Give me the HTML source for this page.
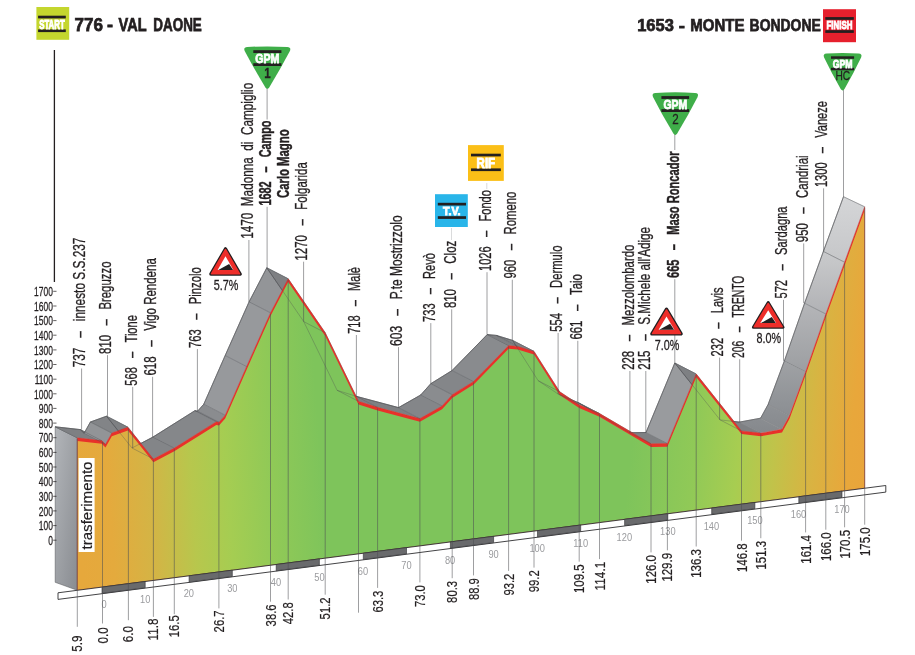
<!DOCTYPE html>
<html><head><meta charset="utf-8"><title>Profile</title>
<style>html,body{margin:0;padding:0;background:#fff}svg{display:block}</style></head>
<body>
<svg width="915" height="655" viewBox="0 0 915 655" font-family="'Liberation Sans', sans-serif">
<defs>
<linearGradient id="gf" gradientUnits="userSpaceOnUse" x1="77" y1="485" x2="865" y2="430">
<stop offset="0" stop-color="#e6a83c"/>
<stop offset="0.04" stop-color="#e4aa3d"/>
<stop offset="0.09" stop-color="#d4b445"/>
<stop offset="0.145" stop-color="#b7c74d"/>
<stop offset="0.19" stop-color="#a5cd52"/>
<stop offset="0.25" stop-color="#8fc957"/>
<stop offset="0.31" stop-color="#7ec45b"/>
<stop offset="0.70" stop-color="#7ec45b"/>
<stop offset="0.78" stop-color="#90c957"/>
<stop offset="0.835" stop-color="#a7cd51"/>
<stop offset="0.88" stop-color="#c0c34a"/>
<stop offset="0.93" stop-color="#d9b342"/>
<stop offset="0.975" stop-color="#e8a73b"/>
<stop offset="1" stop-color="#e9a53b"/>
</linearGradient>
<linearGradient id="gf2" gradientUnits="userSpaceOnUse" x1="77" y1="417.5" x2="865" y2="497.5">
<stop offset="0" stop-color="#e6a83c"/>
<stop offset="0.04" stop-color="#e4aa3d"/>
<stop offset="0.09" stop-color="#d4b445"/>
<stop offset="0.145" stop-color="#b7c74d"/>
<stop offset="0.19" stop-color="#a5cd52"/>
<stop offset="0.25" stop-color="#8fc957"/>
<stop offset="0.31" stop-color="#7ec45b"/>
<stop offset="0.70" stop-color="#7ec45b"/>
<stop offset="0.78" stop-color="#90c957"/>
<stop offset="0.835" stop-color="#a7cd51"/>
<stop offset="0.88" stop-color="#c0c34a"/>
<stop offset="0.93" stop-color="#d9b342"/>
<stop offset="0.975" stop-color="#e8a73b"/>
<stop offset="1" stop-color="#e9a53b"/>
</linearGradient>
<clipPath id="cl"><rect x="0" y="0" width="470" height="655"/></clipPath><clipPath id="cr"><rect x="470" y="0" width="445" height="655"/></clipPath>
<linearGradient id="gl" x1="0" y1="0" x2="1" y2="1">
<stop offset="0" stop-color="#b2b5b9"/><stop offset="1" stop-color="#898c91"/>
</linearGradient>
<linearGradient id="gr" gradientUnits="userSpaceOnUse" x1="0" y1="200" x2="0" y2="440">
<stop offset="0" stop-color="#d4d5d7"/><stop offset="0.25" stop-color="#c6c7c9"/><stop offset="0.46" stop-color="#b2b3b6"/><stop offset="0.67" stop-color="#a0a2a5"/><stop offset="0.84" stop-color="#909397"/><stop offset="1" stop-color="#83868a"/>
</linearGradient>
</defs>
<rect width="915" height="655" fill="#fff"/>
<line x1="54.4" y1="50" x2="54.4" y2="282" stroke="#231f20" stroke-width="1.3"/>
<polygon points="55.2,426.8 77.3,437.8 77.3,590.3 55.2,582.3" fill="url(#gl)" stroke="#4d4e52" stroke-width="0.5"/>
<polygon points="77.3,437.8 101.7,440.6 80.3,429.6 55.2,426.8" fill="#7e8083" stroke="#7e8083" stroke-width="0.6"/>
<polygon points="101.7,440.6 105.5,444.3 84.1,433.3 80.3,429.6" fill="#7e8083" stroke="#7e8083" stroke-width="0.6"/>
<polygon points="105.5,444.3 111.8,433.0 90.4,422.0 84.1,433.3" fill="#929497" stroke="#929497" stroke-width="0.6"/>
<polygon points="111.8,433.0 127.9,427.2 106.5,416.2 90.4,422.0" fill="#828487" stroke="#828487" stroke-width="0.6"/>
<polygon points="127.9,427.2 153.4,459.0 132.0,448.0 106.5,416.2" fill="#7e8083" stroke="#7e8083" stroke-width="0.6"/>
<polygon points="153.4,459.0 174.3,448.1 152.9,437.1 132.0,448.0" fill="#838588" stroke="#838588" stroke-width="0.6"/>
<polygon points="174.3,448.1 216.3,421.7 194.9,410.7 152.9,437.1" fill="#85878a" stroke="#85878a" stroke-width="0.6"/>
<polygon points="216.3,421.7 219.0,422.2 197.6,411.2 194.9,410.7" fill="#7e8083" stroke="#7e8083" stroke-width="0.6"/>
<polygon points="219.0,422.2 225.2,415.2 203.8,404.2 197.6,411.2" fill="#8a8c8f" stroke="#8a8c8f" stroke-width="0.6"/>
<polygon points="225.2,415.2 246.6,366.5 225.2,355.5 203.8,404.2" fill="#97999c" stroke="#97999c" stroke-width="0.6"/>
<polygon points="246.6,366.5 270.5,312.8 249.1,301.8 225.2,355.5" fill="#97999c" stroke="#97999c" stroke-width="0.6"/>
<polygon points="270.5,312.8 288.2,278.8 266.8,267.8 249.1,301.8" fill="#939598" stroke="#939598" stroke-width="0.6"/>
<polygon points="288.2,278.8 325.2,332.7 303.8,321.7 266.8,267.8" fill="#7e8083" stroke="#7e8083" stroke-width="0.6"/>
<polygon points="325.2,332.7 358.5,401.3 337.1,390.3 303.8,321.7" fill="#7e8083" stroke="#7e8083" stroke-width="0.6"/>
<polygon points="358.5,401.3 377.6,407.3 356.2,396.3 337.1,390.3" fill="#7e8083" stroke="#7e8083" stroke-width="0.6"/>
<polygon points="377.6,407.3 419.9,418.6 398.5,407.6 356.2,396.3" fill="#7e8083" stroke="#7e8083" stroke-width="0.6"/>
<polygon points="419.9,418.6 442.1,406.0 420.7,395.0 398.5,407.6" fill="#848689" stroke="#848689" stroke-width="0.6"/>
<polygon points="442.1,406.0 452.2,394.7 430.8,383.7 420.7,395.0" fill="#8a8c8f" stroke="#8a8c8f" stroke-width="0.6"/>
<polygon points="452.2,394.7 473.5,381.5 452.1,370.5 430.8,383.7" fill="#848689" stroke="#848689" stroke-width="0.6"/>
<polygon points="473.5,381.5 508.6,345.6 487.2,334.6 452.1,370.5" fill="#898b8e" stroke="#898b8e" stroke-width="0.6"/>
<polygon points="508.6,345.6 517.7,346.4 496.3,335.4 487.2,334.6" fill="#7e8083" stroke="#7e8083" stroke-width="0.6"/>
<polygon points="517.7,346.4 534.0,351.4 512.6,340.4 496.3,335.4" fill="#7e8083" stroke="#7e8083" stroke-width="0.6"/>
<polygon points="534.0,351.4 559.6,391.7 538.2,380.7 512.6,340.4" fill="#7e8083" stroke="#7e8083" stroke-width="0.6"/>
<polygon points="559.6,391.7 579.2,404.8 557.8,393.8 538.2,380.7" fill="#7e8083" stroke="#7e8083" stroke-width="0.6"/>
<polygon points="579.2,404.8 599.5,413.6 578.1,402.6 557.8,393.8" fill="#7e8083" stroke="#7e8083" stroke-width="0.6"/>
<polygon points="599.5,413.6 651.0,443.7 629.6,432.7 578.1,402.6" fill="#7e8083" stroke="#7e8083" stroke-width="0.6"/>
<polygon points="651.0,443.7 667.4,443.5 646.0,432.5 629.6,432.7" fill="#7e8083" stroke="#7e8083" stroke-width="0.6"/>
<polygon points="667.4,443.5 696.2,374.0 674.8,363.0 646.0,432.5" fill="#999b9e" stroke="#999b9e" stroke-width="0.6"/>
<polygon points="696.2,374.0 741.5,430.9 720.1,419.9 674.8,363.0" fill="#7e8083" stroke="#7e8083" stroke-width="0.6"/>
<polygon points="741.5,430.9 760.8,433.1 739.4,422.1 720.1,419.9" fill="#7e8083" stroke="#7e8083" stroke-width="0.6"/>
<polygon points="760.8,433.1 782.0,429.2 760.6,418.2 739.4,422.1" fill="url(#gr)" stroke="#b0b1b4" stroke-width="0.6"/>
<polygon points="782.0,429.2 789.5,415.5 768.1,404.5 760.6,418.2" fill="url(#gr)" stroke="#b0b1b4" stroke-width="0.6"/>
<polygon points="789.5,415.5 805.6,371.7 784.4,360.9 768.1,404.5" fill="url(#gr)" stroke="#b0b1b4" stroke-width="0.6"/>
<polygon points="805.6,371.7 825.8,314.0 804.6,303.2 784.4,360.9" fill="url(#gr)" stroke="#b0b1b4" stroke-width="0.6"/>
<polygon points="825.8,314.0 844.6,262.2 823.4,251.4 804.6,303.2" fill="url(#gr)" stroke="#b0b1b4" stroke-width="0.6"/>
<polygon points="844.6,262.2 864.7,206.8 843.5,196.7 823.4,251.4" fill="url(#gr)" stroke="#b0b1b4" stroke-width="0.6"/>
<polyline points="55.2,426.8 80.3,429.6 84.1,433.3 90.4,422.0 106.5,416.2 132.0,448.0 152.9,437.1 194.9,410.7 197.6,411.2 203.8,404.2 225.2,355.5 249.1,301.8 266.8,267.8 303.8,321.7 337.1,390.3 356.2,396.3 398.5,407.6 420.7,395.0 430.8,383.7 452.1,370.5 487.2,334.6 496.3,335.4 512.6,340.4 538.2,380.7 557.8,393.8 578.1,402.6 629.6,432.7 646.0,432.5 674.8,363.0 720.1,419.9 739.4,422.1 760.6,418.2 768.1,404.5 784.4,360.9 804.6,303.2 823.4,251.4 843.5,196.7" fill="none" stroke="#4d4e52" stroke-width="0.5"/>
<polygon points="77.3,437.8 101.7,440.6 105.5,444.3 111.8,433.0 127.9,427.2 153.4,459.0 174.3,448.1 216.3,421.7 219.0,422.2 225.2,415.2 246.6,366.5 270.5,312.8 288.2,278.8 325.2,332.7 358.5,401.3 377.6,407.3 419.9,418.6 442.1,406.0 452.2,394.7 473.5,381.5 508.6,345.6 517.7,346.4 534.0,351.4 559.6,391.7 579.2,404.8 599.5,413.6 651.0,443.7 667.4,443.5 696.2,374.0 741.5,430.9 760.8,433.1 782.0,429.2 789.5,415.5 805.6,371.7 825.8,314.0 844.6,262.2 864.7,206.8 864.7,488.2 77.3,590.3" fill="#e8312a"/>
<polygon points="77.3,441.0 101.7,443.8 105.5,447.5 111.8,436.2 127.9,430.4 153.4,462.2 174.3,451.3 216.3,424.9 219.0,425.4 225.2,418.4 246.6,369.7 270.5,316.0 288.2,282.0 325.2,335.9 358.5,404.5 377.6,410.5 419.9,421.8 442.1,409.2 452.2,397.9 473.5,384.7 508.6,348.8 517.7,349.6 534.0,354.6 559.6,394.9 579.2,408.0 599.5,416.8 651.0,446.9 667.4,446.7 696.2,377.2 741.5,434.1 760.8,436.3 782.0,432.4 789.5,418.7 805.6,374.9 825.8,317.2 844.6,265.4 864.7,210.0 864.7,488.2 77.3,590.3" fill="url(#gf)" clip-path="url(#cl)"/>
<polygon points="77.3,441.0 101.7,443.8 105.5,447.5 111.8,436.2 127.9,430.4 153.4,462.2 174.3,451.3 216.3,424.9 219.0,425.4 225.2,418.4 246.6,369.7 270.5,316.0 288.2,282.0 325.2,335.9 358.5,404.5 377.6,410.5 419.9,421.8 442.1,409.2 452.2,397.9 473.5,384.7 508.6,348.8 517.7,349.6 534.0,354.6 559.6,394.9 579.2,408.0 599.5,416.8 651.0,446.9 667.4,446.7 696.2,377.2 741.5,434.1 760.8,436.3 782.0,432.4 789.5,418.7 805.6,374.9 825.8,317.2 844.6,265.4 864.7,210.0 864.7,488.2 77.3,590.3" fill="url(#gf2)" clip-path="url(#cr)"/>
<polygon points="77.3,437.8 101.7,440.6 105.5,444.3 111.8,433.0 127.9,427.2 153.4,459.0 174.3,448.1 216.3,421.7 219.0,422.2 225.2,415.2 246.6,366.5 270.5,312.8 288.2,278.8 325.2,332.7 358.5,401.3 377.6,407.3 419.9,418.6 442.1,406.0 452.2,394.7 473.5,381.5 508.6,345.6 517.7,346.4 534.0,351.4 559.6,391.7 579.2,404.8 599.5,413.6 651.0,443.7 667.4,443.5 696.2,374.0 741.5,430.9 760.8,433.1 782.0,429.2 789.5,415.5 805.6,371.7 825.8,314.0 844.6,262.2 864.7,206.8 864.7,488.2 77.3,590.3" fill="none" stroke="#c8302a" stroke-width="0.4"/>
<polyline points="55.2,426.8 80.3,429.6 84.1,433.3 90.4,422.0 106.5,416.2 132.0,448.0 152.9,437.1 194.9,410.7 197.6,411.2 203.8,404.2 225.2,355.5 249.1,301.8 266.8,267.8 303.8,321.7 337.1,390.3 356.2,396.3 398.5,407.6 420.7,395.0 430.8,383.7 452.1,370.5 487.2,334.6 496.3,335.4 512.6,340.4 538.2,380.7 557.8,393.8 578.1,402.6 629.6,432.7 646.0,432.5 674.8,363.0 720.1,419.9 739.4,422.1 760.6,418.2 768.1,404.5 784.4,360.9 804.6,303.2 823.4,251.4 843.5,196.7" fill="none" stroke="#4d4e52" stroke-width="0.45" opacity="0.75"/>
<line x1="77.3" y1="437.8" x2="55.2" y2="426.8" stroke="#4d4e52" stroke-width="0.45" opacity="0.8"/>
<line x1="101.7" y1="440.6" x2="80.3" y2="429.6" stroke="#4d4e52" stroke-width="0.45" opacity="0.8"/>
<line x1="105.5" y1="444.3" x2="84.1" y2="433.3" stroke="#4d4e52" stroke-width="0.45" opacity="0.8"/>
<line x1="111.8" y1="433.0" x2="90.4" y2="422.0" stroke="#4d4e52" stroke-width="0.45" opacity="0.8"/>
<line x1="127.9" y1="427.2" x2="106.5" y2="416.2" stroke="#4d4e52" stroke-width="0.45" opacity="0.8"/>
<line x1="153.4" y1="459.0" x2="132.0" y2="448.0" stroke="#4d4e52" stroke-width="0.45" opacity="0.8"/>
<line x1="174.3" y1="448.1" x2="152.9" y2="437.1" stroke="#4d4e52" stroke-width="0.45" opacity="0.8"/>
<line x1="216.3" y1="421.7" x2="194.9" y2="410.7" stroke="#4d4e52" stroke-width="0.45" opacity="0.8"/>
<line x1="219.0" y1="422.2" x2="197.6" y2="411.2" stroke="#4d4e52" stroke-width="0.45" opacity="0.8"/>
<line x1="225.2" y1="415.2" x2="203.8" y2="404.2" stroke="#4d4e52" stroke-width="0.45" opacity="0.8"/>
<line x1="246.6" y1="366.5" x2="225.2" y2="355.5" stroke="#4d4e52" stroke-width="0.45" opacity="0.8"/>
<line x1="270.5" y1="312.8" x2="249.1" y2="301.8" stroke="#4d4e52" stroke-width="0.45" opacity="0.8"/>
<line x1="288.2" y1="278.8" x2="266.8" y2="267.8" stroke="#4d4e52" stroke-width="0.45" opacity="0.8"/>
<line x1="325.2" y1="332.7" x2="303.8" y2="321.7" stroke="#4d4e52" stroke-width="0.45" opacity="0.8"/>
<line x1="358.5" y1="401.3" x2="337.1" y2="390.3" stroke="#4d4e52" stroke-width="0.45" opacity="0.8"/>
<line x1="377.6" y1="407.3" x2="356.2" y2="396.3" stroke="#4d4e52" stroke-width="0.45" opacity="0.8"/>
<line x1="419.9" y1="418.6" x2="398.5" y2="407.6" stroke="#4d4e52" stroke-width="0.45" opacity="0.8"/>
<line x1="442.1" y1="406.0" x2="420.7" y2="395.0" stroke="#4d4e52" stroke-width="0.45" opacity="0.8"/>
<line x1="452.2" y1="394.7" x2="430.8" y2="383.7" stroke="#4d4e52" stroke-width="0.45" opacity="0.8"/>
<line x1="473.5" y1="381.5" x2="452.1" y2="370.5" stroke="#4d4e52" stroke-width="0.45" opacity="0.8"/>
<line x1="508.6" y1="345.6" x2="487.2" y2="334.6" stroke="#4d4e52" stroke-width="0.45" opacity="0.8"/>
<line x1="517.7" y1="346.4" x2="496.3" y2="335.4" stroke="#4d4e52" stroke-width="0.45" opacity="0.8"/>
<line x1="534.0" y1="351.4" x2="512.6" y2="340.4" stroke="#4d4e52" stroke-width="0.45" opacity="0.8"/>
<line x1="559.6" y1="391.7" x2="538.2" y2="380.7" stroke="#4d4e52" stroke-width="0.45" opacity="0.8"/>
<line x1="579.2" y1="404.8" x2="557.8" y2="393.8" stroke="#4d4e52" stroke-width="0.45" opacity="0.8"/>
<line x1="599.5" y1="413.6" x2="578.1" y2="402.6" stroke="#4d4e52" stroke-width="0.45" opacity="0.8"/>
<line x1="651.0" y1="443.7" x2="629.6" y2="432.7" stroke="#4d4e52" stroke-width="0.45" opacity="0.8"/>
<line x1="667.4" y1="443.5" x2="646.0" y2="432.5" stroke="#4d4e52" stroke-width="0.45" opacity="0.8"/>
<line x1="696.2" y1="374.0" x2="674.8" y2="363.0" stroke="#4d4e52" stroke-width="0.45" opacity="0.8"/>
<line x1="741.5" y1="430.9" x2="720.1" y2="419.9" stroke="#4d4e52" stroke-width="0.45" opacity="0.8"/>
<line x1="760.8" y1="433.1" x2="739.4" y2="422.1" stroke="#4d4e52" stroke-width="0.45" opacity="0.8"/>
<line x1="782.0" y1="429.2" x2="760.6" y2="418.2" stroke="#4d4e52" stroke-width="0.45" opacity="0.8"/>
<line x1="789.5" y1="415.5" x2="768.1" y2="404.5" stroke="#4d4e52" stroke-width="0.45" opacity="0.8"/>
<line x1="805.6" y1="371.7" x2="784.4" y2="360.9" stroke="#4d4e52" stroke-width="0.45" opacity="0.8"/>
<line x1="825.8" y1="314.0" x2="804.6" y2="303.2" stroke="#4d4e52" stroke-width="0.45" opacity="0.8"/>
<line x1="844.6" y1="262.2" x2="823.4" y2="251.4" stroke="#4d4e52" stroke-width="0.45" opacity="0.8"/>
<line x1="864.7" y1="206.8" x2="843.5" y2="196.7" stroke="#4d4e52" stroke-width="0.45" opacity="0.8"/>
<polygon points="58.0,592.8 885.8,485.5 885.8,492.1 58.0,599.4" fill="#fff" stroke="#2e2e30" stroke-width="0.9"/>
<polygon points="102.0,587.1 145.2,581.5 145.2,587.8 102.0,593.4" fill="#696a6c" stroke="#2e2e30" stroke-width="0.6"/>
<polygon points="189.1,575.8 232.3,570.2 232.3,576.5 189.1,582.1" fill="#696a6c" stroke="#2e2e30" stroke-width="0.6"/>
<polygon points="276.2,564.5 319.4,558.9 319.4,565.2 276.2,570.8" fill="#696a6c" stroke="#2e2e30" stroke-width="0.6"/>
<polygon points="363.3,553.2 406.5,547.6 406.5,553.9 363.3,559.5" fill="#696a6c" stroke="#2e2e30" stroke-width="0.6"/>
<polygon points="450.4,541.9 493.6,536.3 493.6,542.6 450.4,548.2" fill="#696a6c" stroke="#2e2e30" stroke-width="0.6"/>
<polygon points="537.5,530.6 580.7,525.0 580.7,531.3 537.5,536.9" fill="#696a6c" stroke="#2e2e30" stroke-width="0.6"/>
<polygon points="624.6,519.3 667.8,513.7 667.8,520.0 624.6,525.6" fill="#696a6c" stroke="#2e2e30" stroke-width="0.6"/>
<polygon points="711.7,508.0 754.9,502.4 754.9,508.7 711.7,514.3" fill="#696a6c" stroke="#2e2e30" stroke-width="0.6"/>
<polygon points="798.8,496.7 842.0,491.1 842.0,497.4 798.8,503.0" fill="#696a6c" stroke="#2e2e30" stroke-width="0.6"/>
<text transform="translate(104.0,608.4) scale(0.86,1)" font-size="10.8" fill="#9a9b9e" text-anchor="middle">0</text>
<text transform="translate(145.2,603.1) scale(0.86,1)" font-size="10.8" fill="#9a9b9e" text-anchor="middle">10</text>
<text transform="translate(188.8,597.4) scale(0.86,1)" font-size="10.8" fill="#9a9b9e" text-anchor="middle">20</text>
<text transform="translate(232.3,591.8) scale(0.86,1)" font-size="10.8" fill="#9a9b9e" text-anchor="middle">30</text>
<text transform="translate(275.9,586.1) scale(0.86,1)" font-size="10.8" fill="#9a9b9e" text-anchor="middle">40</text>
<text transform="translate(319.4,580.5) scale(0.86,1)" font-size="10.8" fill="#9a9b9e" text-anchor="middle">50</text>
<text transform="translate(363.0,574.9) scale(0.86,1)" font-size="10.8" fill="#9a9b9e" text-anchor="middle">60</text>
<text transform="translate(406.5,569.2) scale(0.86,1)" font-size="10.8" fill="#9a9b9e" text-anchor="middle">70</text>
<text transform="translate(450.1,563.6) scale(0.86,1)" font-size="10.8" fill="#9a9b9e" text-anchor="middle">80</text>
<text transform="translate(493.6,557.9) scale(0.86,1)" font-size="10.8" fill="#9a9b9e" text-anchor="middle">90</text>
<text transform="translate(537.2,552.3) scale(0.86,1)" font-size="10.8" fill="#9a9b9e" text-anchor="middle">100</text>
<text transform="translate(580.7,546.6) scale(0.86,1)" font-size="10.8" fill="#9a9b9e" text-anchor="middle">110</text>
<text transform="translate(624.3,541.0) scale(0.86,1)" font-size="10.8" fill="#9a9b9e" text-anchor="middle">120</text>
<text transform="translate(667.8,535.3) scale(0.86,1)" font-size="10.8" fill="#9a9b9e" text-anchor="middle">130</text>
<text transform="translate(711.4,529.7) scale(0.86,1)" font-size="10.8" fill="#9a9b9e" text-anchor="middle">140</text>
<text transform="translate(754.9,524.0) scale(0.86,1)" font-size="10.8" fill="#9a9b9e" text-anchor="middle">150</text>
<text transform="translate(798.5,518.4) scale(0.86,1)" font-size="10.8" fill="#9a9b9e" text-anchor="middle">160</text>
<text transform="translate(842.0,512.7) scale(0.86,1)" font-size="10.8" fill="#9a9b9e" text-anchor="middle">170</text>
<line x1="77.3" y1="438.8" x2="77.3" y2="626.8" stroke="#4d4e52" stroke-width="0.55"/>
<text transform="translate(82.3,635.6) rotate(-90)" font-size="14.2" fill="#231f20" stroke="#231f20" stroke-width="0.2" text-anchor="end" textLength="16.2" lengthAdjust="spacingAndGlyphs">5.9</text>
<line x1="102.5" y1="441.6" x2="102.5" y2="623.5" stroke="#4d4e52" stroke-width="0.55"/>
<text transform="translate(107.5,627.3) rotate(-90)" font-size="14.2" fill="#231f20" stroke="#231f20" stroke-width="0.2" text-anchor="end" textLength="16.2" lengthAdjust="spacingAndGlyphs">0.0</text>
<line x1="128.4" y1="428.2" x2="128.4" y2="620.2" stroke="#4d4e52" stroke-width="0.55"/>
<text transform="translate(133.4,626.0) rotate(-90)" font-size="14.2" fill="#231f20" stroke="#231f20" stroke-width="0.2" text-anchor="end" textLength="16.2" lengthAdjust="spacingAndGlyphs">6.0</text>
<line x1="153.4" y1="460.0" x2="153.4" y2="616.9" stroke="#4d4e52" stroke-width="0.55"/>
<text transform="translate(158.4,618.5) rotate(-90)" font-size="14.2" fill="#231f20" stroke="#231f20" stroke-width="0.2" text-anchor="end" textLength="22.0" lengthAdjust="spacingAndGlyphs">11.8</text>
<line x1="174.3" y1="449.1" x2="174.3" y2="614.2" stroke="#4d4e52" stroke-width="0.55"/>
<text transform="translate(179.3,615.2) rotate(-90)" font-size="14.2" fill="#231f20" stroke="#231f20" stroke-width="0.2" text-anchor="end" textLength="22.0" lengthAdjust="spacingAndGlyphs">16.5</text>
<line x1="218.9" y1="423.2" x2="218.9" y2="608.4" stroke="#4d4e52" stroke-width="0.55"/>
<text transform="translate(223.9,610.4) rotate(-90)" font-size="14.2" fill="#231f20" stroke="#231f20" stroke-width="0.2" text-anchor="end" textLength="22.0" lengthAdjust="spacingAndGlyphs">26.7</text>
<line x1="270.5" y1="313.8" x2="270.5" y2="601.7" stroke="#4d4e52" stroke-width="0.55"/>
<text transform="translate(275.5,604.4) rotate(-90)" font-size="14.2" fill="#231f20" stroke="#231f20" stroke-width="0.2" text-anchor="end" textLength="22.0" lengthAdjust="spacingAndGlyphs">38.6</text>
<line x1="288.2" y1="279.8" x2="288.2" y2="599.5" stroke="#4d4e52" stroke-width="0.55"/>
<text transform="translate(293.2,602.2) rotate(-90)" font-size="14.2" fill="#231f20" stroke="#231f20" stroke-width="0.2" text-anchor="end" textLength="22.0" lengthAdjust="spacingAndGlyphs">42.8</text>
<line x1="325.2" y1="333.7" x2="325.2" y2="594.7" stroke="#4d4e52" stroke-width="0.55"/>
<text transform="translate(330.2,597.4) rotate(-90)" font-size="14.2" fill="#231f20" stroke="#231f20" stroke-width="0.2" text-anchor="end" textLength="22.0" lengthAdjust="spacingAndGlyphs">51.2</text>
<line x1="377.6" y1="408.3" x2="377.6" y2="587.9" stroke="#4d4e52" stroke-width="0.55"/>
<text transform="translate(382.6,590.6) rotate(-90)" font-size="14.2" fill="#231f20" stroke="#231f20" stroke-width="0.2" text-anchor="end" textLength="22.0" lengthAdjust="spacingAndGlyphs">63.3</text>
<line x1="419.9" y1="419.6" x2="419.9" y2="582.4" stroke="#4d4e52" stroke-width="0.55"/>
<text transform="translate(424.9,585.1) rotate(-90)" font-size="14.2" fill="#231f20" stroke="#231f20" stroke-width="0.2" text-anchor="end" textLength="22.0" lengthAdjust="spacingAndGlyphs">73.0</text>
<line x1="452.2" y1="395.7" x2="452.2" y2="578.2" stroke="#4d4e52" stroke-width="0.55"/>
<text transform="translate(457.2,580.9) rotate(-90)" font-size="14.2" fill="#231f20" stroke="#231f20" stroke-width="0.2" text-anchor="end" textLength="22.0" lengthAdjust="spacingAndGlyphs">80.3</text>
<line x1="473.5" y1="382.5" x2="473.5" y2="575.4" stroke="#4d4e52" stroke-width="0.55"/>
<text transform="translate(478.5,578.1) rotate(-90)" font-size="14.2" fill="#231f20" stroke="#231f20" stroke-width="0.2" text-anchor="end" textLength="22.0" lengthAdjust="spacingAndGlyphs">88.9</text>
<line x1="508.6" y1="346.6" x2="508.6" y2="570.9" stroke="#4d4e52" stroke-width="0.55"/>
<text transform="translate(513.6,573.6) rotate(-90)" font-size="14.2" fill="#231f20" stroke="#231f20" stroke-width="0.2" text-anchor="end" textLength="22.0" lengthAdjust="spacingAndGlyphs">93.2</text>
<line x1="534.0" y1="352.4" x2="534.0" y2="567.6" stroke="#4d4e52" stroke-width="0.55"/>
<text transform="translate(539.0,570.3) rotate(-90)" font-size="14.2" fill="#231f20" stroke="#231f20" stroke-width="0.2" text-anchor="end" textLength="22.0" lengthAdjust="spacingAndGlyphs">99.2</text>
<line x1="579.2" y1="405.8" x2="579.2" y2="561.7" stroke="#4d4e52" stroke-width="0.55"/>
<text transform="translate(584.2,564.4) rotate(-90)" font-size="14.2" fill="#231f20" stroke="#231f20" stroke-width="0.2" text-anchor="end" textLength="28.6" lengthAdjust="spacingAndGlyphs">109.5</text>
<line x1="599.5" y1="414.6" x2="599.5" y2="559.1" stroke="#4d4e52" stroke-width="0.55"/>
<text transform="translate(604.5,561.8) rotate(-90)" font-size="14.2" fill="#231f20" stroke="#231f20" stroke-width="0.2" text-anchor="end" textLength="28.6" lengthAdjust="spacingAndGlyphs">114.1</text>
<line x1="651.0" y1="444.7" x2="651.0" y2="552.4" stroke="#4d4e52" stroke-width="0.55"/>
<text transform="translate(656.0,555.1) rotate(-90)" font-size="14.2" fill="#231f20" stroke="#231f20" stroke-width="0.2" text-anchor="end" textLength="28.6" lengthAdjust="spacingAndGlyphs">126.0</text>
<line x1="667.4" y1="444.5" x2="667.4" y2="550.3" stroke="#4d4e52" stroke-width="0.55"/>
<text transform="translate(672.4,553.0) rotate(-90)" font-size="14.2" fill="#231f20" stroke="#231f20" stroke-width="0.2" text-anchor="end" textLength="28.6" lengthAdjust="spacingAndGlyphs">129.9</text>
<line x1="696.2" y1="375.0" x2="696.2" y2="546.5" stroke="#4d4e52" stroke-width="0.55"/>
<text transform="translate(701.2,549.2) rotate(-90)" font-size="14.2" fill="#231f20" stroke="#231f20" stroke-width="0.2" text-anchor="end" textLength="28.6" lengthAdjust="spacingAndGlyphs">136.3</text>
<line x1="741.5" y1="431.9" x2="741.5" y2="540.7" stroke="#4d4e52" stroke-width="0.55"/>
<text transform="translate(746.5,543.4) rotate(-90)" font-size="14.2" fill="#231f20" stroke="#231f20" stroke-width="0.2" text-anchor="end" textLength="28.6" lengthAdjust="spacingAndGlyphs">146.8</text>
<line x1="760.8" y1="434.1" x2="760.8" y2="538.2" stroke="#4d4e52" stroke-width="0.55"/>
<text transform="translate(765.8,540.9) rotate(-90)" font-size="14.2" fill="#231f20" stroke="#231f20" stroke-width="0.2" text-anchor="end" textLength="28.6" lengthAdjust="spacingAndGlyphs">151.3</text>
<line x1="805.6" y1="372.7" x2="805.6" y2="532.4" stroke="#4d4e52" stroke-width="0.55"/>
<text transform="translate(810.6,535.1) rotate(-90)" font-size="14.2" fill="#231f20" stroke="#231f20" stroke-width="0.2" text-anchor="end" textLength="28.6" lengthAdjust="spacingAndGlyphs">161.4</text>
<line x1="825.8" y1="315.0" x2="825.8" y2="529.7" stroke="#4d4e52" stroke-width="0.55"/>
<text transform="translate(830.8,532.4) rotate(-90)" font-size="14.2" fill="#231f20" stroke="#231f20" stroke-width="0.2" text-anchor="end" textLength="28.6" lengthAdjust="spacingAndGlyphs">166.0</text>
<line x1="844.6" y1="263.2" x2="844.6" y2="527.3" stroke="#4d4e52" stroke-width="0.55"/>
<text transform="translate(849.6,530.0) rotate(-90)" font-size="14.2" fill="#231f20" stroke="#231f20" stroke-width="0.2" text-anchor="end" textLength="28.6" lengthAdjust="spacingAndGlyphs">170.5</text>
<line x1="864.7" y1="207.8" x2="864.7" y2="524.7" stroke="#4d4e52" stroke-width="0.55"/>
<text transform="translate(869.7,527.4) rotate(-90)" font-size="14.2" fill="#231f20" stroke="#231f20" stroke-width="0.2" text-anchor="end" textLength="28.6" lengthAdjust="spacingAndGlyphs">175.0</text>
<line x1="358.5" y1="403" x2="358.5" y2="612.7" stroke="#4d4e52" stroke-width="0.55"/>
<text transform="translate(52.9,544.9) scale(0.64,1)" font-size="13.2" fill="#231f20" stroke="#231f20" stroke-width="0.3" text-anchor="end">0</text>
<line x1="53.2" y1="540.2" x2="56.5" y2="540.2" stroke="#231f20" stroke-width="0.7"/>
<text transform="translate(52.9,530.3) scale(0.64,1)" font-size="13.2" fill="#231f20" stroke="#231f20" stroke-width="0.3" text-anchor="end">100</text>
<line x1="53.2" y1="525.6" x2="56.5" y2="525.6" stroke="#231f20" stroke-width="0.7"/>
<text transform="translate(52.9,515.6) scale(0.64,1)" font-size="13.2" fill="#231f20" stroke="#231f20" stroke-width="0.3" text-anchor="end">200</text>
<line x1="53.2" y1="510.9" x2="56.5" y2="510.9" stroke="#231f20" stroke-width="0.7"/>
<text transform="translate(52.9,501.0) scale(0.64,1)" font-size="13.2" fill="#231f20" stroke="#231f20" stroke-width="0.3" text-anchor="end">300</text>
<line x1="53.2" y1="496.3" x2="56.5" y2="496.3" stroke="#231f20" stroke-width="0.7"/>
<text transform="translate(52.9,486.3) scale(0.64,1)" font-size="13.2" fill="#231f20" stroke="#231f20" stroke-width="0.3" text-anchor="end">400</text>
<line x1="53.2" y1="481.6" x2="56.5" y2="481.6" stroke="#231f20" stroke-width="0.7"/>
<text transform="translate(52.9,471.7) scale(0.64,1)" font-size="13.2" fill="#231f20" stroke="#231f20" stroke-width="0.3" text-anchor="end">500</text>
<line x1="53.2" y1="467.0" x2="56.5" y2="467.0" stroke="#231f20" stroke-width="0.7"/>
<text transform="translate(52.9,457.1) scale(0.64,1)" font-size="13.2" fill="#231f20" stroke="#231f20" stroke-width="0.3" text-anchor="end">600</text>
<line x1="53.2" y1="452.4" x2="56.5" y2="452.4" stroke="#231f20" stroke-width="0.7"/>
<text transform="translate(52.9,442.4) scale(0.64,1)" font-size="13.2" fill="#231f20" stroke="#231f20" stroke-width="0.3" text-anchor="end">700</text>
<line x1="53.2" y1="437.7" x2="56.5" y2="437.7" stroke="#231f20" stroke-width="0.7"/>
<text transform="translate(52.9,427.8) scale(0.64,1)" font-size="13.2" fill="#231f20" stroke="#231f20" stroke-width="0.3" text-anchor="end">800</text>
<line x1="53.2" y1="423.1" x2="56.5" y2="423.1" stroke="#231f20" stroke-width="0.7"/>
<text transform="translate(52.9,413.1) scale(0.64,1)" font-size="13.2" fill="#231f20" stroke="#231f20" stroke-width="0.3" text-anchor="end">900</text>
<line x1="53.2" y1="408.4" x2="56.5" y2="408.4" stroke="#231f20" stroke-width="0.7"/>
<text transform="translate(52.9,398.5) scale(0.64,1)" font-size="13.2" fill="#231f20" stroke="#231f20" stroke-width="0.3" text-anchor="end">1000</text>
<line x1="53.2" y1="393.8" x2="56.5" y2="393.8" stroke="#231f20" stroke-width="0.7"/>
<text transform="translate(52.9,383.9) scale(0.64,1)" font-size="13.2" fill="#231f20" stroke="#231f20" stroke-width="0.3" text-anchor="end">1100</text>
<line x1="53.2" y1="379.2" x2="56.5" y2="379.2" stroke="#231f20" stroke-width="0.7"/>
<text transform="translate(52.9,369.2) scale(0.64,1)" font-size="13.2" fill="#231f20" stroke="#231f20" stroke-width="0.3" text-anchor="end">1200</text>
<line x1="53.2" y1="364.5" x2="56.5" y2="364.5" stroke="#231f20" stroke-width="0.7"/>
<text transform="translate(52.9,354.6) scale(0.64,1)" font-size="13.2" fill="#231f20" stroke="#231f20" stroke-width="0.3" text-anchor="end">1300</text>
<line x1="53.2" y1="349.9" x2="56.5" y2="349.9" stroke="#231f20" stroke-width="0.7"/>
<text transform="translate(52.9,339.9) scale(0.64,1)" font-size="13.2" fill="#231f20" stroke="#231f20" stroke-width="0.3" text-anchor="end">1400</text>
<line x1="53.2" y1="335.2" x2="56.5" y2="335.2" stroke="#231f20" stroke-width="0.7"/>
<text transform="translate(52.9,325.3) scale(0.64,1)" font-size="13.2" fill="#231f20" stroke="#231f20" stroke-width="0.3" text-anchor="end">1500</text>
<line x1="53.2" y1="320.6" x2="56.5" y2="320.6" stroke="#231f20" stroke-width="0.7"/>
<text transform="translate(52.9,310.7) scale(0.64,1)" font-size="13.2" fill="#231f20" stroke="#231f20" stroke-width="0.3" text-anchor="end">1600</text>
<line x1="53.2" y1="306.0" x2="56.5" y2="306.0" stroke="#231f20" stroke-width="0.7"/>
<text transform="translate(52.9,296.0) scale(0.64,1)" font-size="13.2" fill="#231f20" stroke="#231f20" stroke-width="0.3" text-anchor="end">1700</text>
<line x1="53.2" y1="291.3" x2="56.5" y2="291.3" stroke="#231f20" stroke-width="0.7"/>
<rect x="78.6" y="458" width="16" height="94" fill="#fff"/>
<text transform="translate(91.8,549.5) rotate(-90)" font-size="14.5" fill="#231f20" stroke="#231f20" stroke-width="0.2" textLength="88" lengthAdjust="spacingAndGlyphs">trasferimento</text>
<line x1="81.6" y1="368.5" x2="81.6" y2="429.6" stroke="#4d4e52" stroke-width="0.55"/>
<text transform="translate(85.4,367.3) rotate(-90)" font-size="16.4" stroke="#231f20" stroke-width="0.32" fill="#231f20" textLength="129.7" lengthAdjust="spacingAndGlyphs" xml:space="preserve">737   –   innesto S.S.237</text>
<line x1="107.5" y1="355.1" x2="107.5" y2="416.2" stroke="#4d4e52" stroke-width="0.55"/>
<text transform="translate(111.3,353.9) rotate(-90)" font-size="16.4" stroke="#231f20" stroke-width="0.32" fill="#231f20" textLength="92.4" lengthAdjust="spacingAndGlyphs" xml:space="preserve">810   –   Breguzzo</text>
<line x1="132.7" y1="386.9" x2="132.7" y2="448.0" stroke="#4d4e52" stroke-width="0.55"/>
<text transform="translate(136.5,385.7) rotate(-90)" font-size="16.4" stroke="#231f20" stroke-width="0.32" fill="#231f20" textLength="70.6" lengthAdjust="spacingAndGlyphs" xml:space="preserve">568   –   Tione</text>
<line x1="152.6" y1="376.8" x2="152.6" y2="437.1" stroke="#4d4e52" stroke-width="0.55"/>
<text transform="translate(156.4,375.6) rotate(-90)" font-size="16.4" stroke="#231f20" stroke-width="0.32" fill="#231f20" textLength="117.4" lengthAdjust="spacingAndGlyphs" xml:space="preserve">618   –   Vigo Rendena</text>
<line x1="197.4" y1="349.1" x2="197.4" y2="411.2" stroke="#4d4e52" stroke-width="0.55"/>
<text transform="translate(201.2,347.9) rotate(-90)" font-size="16.4" stroke="#231f20" stroke-width="0.32" fill="#231f20" textLength="80.6" lengthAdjust="spacingAndGlyphs" xml:space="preserve">763   –   Pinzolo</text>
<line x1="248.9" y1="240.0" x2="248.9" y2="301.8" stroke="#4d4e52" stroke-width="0.55"/>
<text transform="translate(252.7,238.8) rotate(-90)" font-size="16.4" stroke="#231f20" stroke-width="0.32" fill="#231f20" textLength="156.0" lengthAdjust="spacingAndGlyphs" xml:space="preserve">1470  Madonna  di  Campiglio</text>
<line x1="267.1" y1="206.8" x2="267.1" y2="267.8" stroke="#4d4e52" stroke-width="0.55"/>
<text transform="translate(270.9,205.6) rotate(-90)" font-size="16.4" font-weight="bold" stroke="#231f20" stroke-width="0.45" fill="#231f20" textLength="85.0" lengthAdjust="spacingAndGlyphs" xml:space="preserve">1682   –   Campo</text>
<text transform="translate(289.0,198.0) rotate(-90)" font-size="16.4" font-weight="bold" stroke="#231f20" stroke-width="0.45" fill="#231f20" textLength="68.6" lengthAdjust="spacingAndGlyphs" xml:space="preserve">Carlo Magno</text>
<line x1="303.6" y1="261.7" x2="303.6" y2="321.7" stroke="#4d4e52" stroke-width="0.55"/>
<text transform="translate(307.4,260.5) rotate(-90)" font-size="16.4" stroke="#231f20" stroke-width="0.32" fill="#231f20" textLength="98.3" lengthAdjust="spacingAndGlyphs" xml:space="preserve">1270   –   Folgarida</text>
<line x1="356.4" y1="335.0" x2="356.4" y2="396.3" stroke="#4d4e52" stroke-width="0.55"/>
<text transform="translate(360.2,333.8) rotate(-90)" font-size="16.4" stroke="#231f20" stroke-width="0.32" fill="#231f20" textLength="66.8" lengthAdjust="spacingAndGlyphs" xml:space="preserve">718   –   Malè</text>
<line x1="398.5" y1="347.1" x2="398.5" y2="407.6" stroke="#4d4e52" stroke-width="0.55"/>
<text transform="translate(402.3,345.9) rotate(-90)" font-size="16.4" stroke="#231f20" stroke-width="0.32" fill="#231f20" textLength="130.6" lengthAdjust="spacingAndGlyphs" xml:space="preserve">603   –   P.te Mostrizzolo</text>
<line x1="430.8" y1="323.1" x2="430.8" y2="383.7" stroke="#4d4e52" stroke-width="0.55"/>
<text transform="translate(434.6,321.9) rotate(-90)" font-size="16.4" stroke="#231f20" stroke-width="0.32" fill="#231f20" textLength="68.8" lengthAdjust="spacingAndGlyphs" xml:space="preserve">733   –   Revò</text>
<line x1="451.7" y1="309.3" x2="451.7" y2="370.5" stroke="#4d4e52" stroke-width="0.55"/>
<text transform="translate(455.5,308.1) rotate(-90)" font-size="16.4" stroke="#231f20" stroke-width="0.32" fill="#231f20" textLength="67.3" lengthAdjust="spacingAndGlyphs" xml:space="preserve">810   –   Cloz</text>
<line x1="487.0" y1="272.2" x2="487.0" y2="334.6" stroke="#4d4e52" stroke-width="0.55"/>
<text transform="translate(490.8,271.0) rotate(-90)" font-size="16.4" stroke="#231f20" stroke-width="0.32" fill="#231f20" textLength="81.0" lengthAdjust="spacingAndGlyphs" xml:space="preserve">1026   –   Fondo</text>
<line x1="512.3" y1="279.7" x2="512.3" y2="340.4" stroke="#4d4e52" stroke-width="0.55"/>
<text transform="translate(516.1,278.5) rotate(-90)" font-size="16.4" stroke="#231f20" stroke-width="0.32" fill="#231f20" textLength="86.8" lengthAdjust="spacingAndGlyphs" xml:space="preserve">960   –   Romeno</text>
<line x1="558.1" y1="332.9" x2="558.1" y2="393.8" stroke="#4d4e52" stroke-width="0.55"/>
<text transform="translate(561.9,331.7) rotate(-90)" font-size="16.4" stroke="#231f20" stroke-width="0.32" fill="#231f20" textLength="86.3" lengthAdjust="spacingAndGlyphs" xml:space="preserve">554   –   Dermulo</text>
<line x1="577.8" y1="340.8" x2="577.8" y2="402.6" stroke="#4d4e52" stroke-width="0.55"/>
<text transform="translate(581.6,339.6) rotate(-90)" font-size="16.4" stroke="#231f20" stroke-width="0.32" fill="#231f20" textLength="65.5" lengthAdjust="spacingAndGlyphs" xml:space="preserve">661   –   Taio</text>
<line x1="629.9" y1="371.0" x2="629.9" y2="432.7" stroke="#4d4e52" stroke-width="0.55"/>
<text transform="translate(633.7,369.8) rotate(-90)" font-size="16.4" stroke="#231f20" stroke-width="0.32" fill="#231f20" textLength="125.2" lengthAdjust="spacingAndGlyphs" xml:space="preserve">228   –   Mezzolombardo</text>
<line x1="645.8" y1="371.0" x2="645.8" y2="432.5" stroke="#4d4e52" stroke-width="0.55"/>
<text transform="translate(649.6,369.8) rotate(-90)" font-size="16.4" stroke="#231f20" stroke-width="0.32" fill="#231f20" textLength="142.8" lengthAdjust="spacingAndGlyphs" xml:space="preserve">215   –   S.Michele all'Adige</text>
<line x1="674.8" y1="279.2" x2="674.8" y2="363.0" stroke="#4d4e52" stroke-width="0.55"/>
<text transform="translate(678.6,278.0) rotate(-90)" font-size="16.4" font-weight="bold" stroke="#231f20" stroke-width="0.45" fill="#231f20" textLength="126.6" lengthAdjust="spacingAndGlyphs" xml:space="preserve">665   –   Maso Roncador</text>
<line x1="719.6" y1="357.6" x2="719.6" y2="419.9" stroke="#4d4e52" stroke-width="0.55"/>
<text transform="translate(723.4,356.4) rotate(-90)" font-size="16.4" stroke="#231f20" stroke-width="0.32" fill="#231f20" textLength="69.0" lengthAdjust="spacingAndGlyphs" xml:space="preserve">232   –   Lavis</text>
<line x1="739.7" y1="359.2" x2="739.7" y2="422.1" stroke="#4d4e52" stroke-width="0.55"/>
<text transform="translate(743.5,358.0) rotate(-90)" font-size="16.4" stroke="#231f20" stroke-width="0.32" fill="#231f20" textLength="82.4" lengthAdjust="spacingAndGlyphs" xml:space="preserve">206   –   TRENTO</text>
<line x1="783.5" y1="299.8" x2="783.5" y2="360.9" stroke="#4d4e52" stroke-width="0.55"/>
<text transform="translate(787.3,298.6) rotate(-90)" font-size="16.4" stroke="#231f20" stroke-width="0.32" fill="#231f20" textLength="92.2" lengthAdjust="spacingAndGlyphs" xml:space="preserve">572   –   Sardagna</text>
<line x1="803.7" y1="243.4" x2="803.7" y2="303.2" stroke="#4d4e52" stroke-width="0.55"/>
<text transform="translate(807.5,242.2) rotate(-90)" font-size="16.4" stroke="#231f20" stroke-width="0.32" fill="#231f20" textLength="86.7" lengthAdjust="spacingAndGlyphs" xml:space="preserve">950   –   Candriai</text>
<line x1="823.6" y1="188.3" x2="823.6" y2="251.4" stroke="#4d4e52" stroke-width="0.55"/>
<text transform="translate(827.4,187.1) rotate(-90)" font-size="16.4" stroke="#231f20" stroke-width="0.32" fill="#231f20" textLength="86.1" lengthAdjust="spacingAndGlyphs" xml:space="preserve">1300   –   Vaneze</text>
<line x1="267.1" y1="88" x2="267.1" y2="119.5" stroke="#4d4e52" stroke-width="0.55"/>
<line x1="674.8" y1="134" x2="674.8" y2="150" stroke="#4d4e52" stroke-width="0.55"/>
<line x1="843.5" y1="89" x2="843.5" y2="196.8" stroke="#4d4e52" stroke-width="0.55"/>
<line x1="451.5" y1="228" x2="451.5" y2="240" stroke="#b5b6b8" stroke-width="0.5"/>
<line x1="486.8" y1="183" x2="486.8" y2="189" stroke="#b5b6b8" stroke-width="0.5"/>
<text x="74.6" y="30.5" font-size="19.0" font-weight="bold" fill="#231f20" stroke="#231f20" stroke-width="0.75" textLength="28.5" lengthAdjust="spacingAndGlyphs">776</text>
<text x="107.0" y="30.5" font-size="19.0" font-weight="bold" fill="#231f20" stroke="#231f20" stroke-width="0.75" textLength="6.0" lengthAdjust="spacingAndGlyphs">-</text>
<text x="118.6" y="30.5" font-size="19.0" font-weight="bold" fill="#231f20" stroke="#231f20" stroke-width="0.75" textLength="28.0" lengthAdjust="spacingAndGlyphs">VAL</text>
<text x="153.3" y="30.5" font-size="19.0" font-weight="bold" fill="#231f20" stroke="#231f20" stroke-width="0.75" textLength="48.5" lengthAdjust="spacingAndGlyphs">DAONE</text>
<text x="637.2" y="31.2" font-size="17.2" font-weight="bold" fill="#231f20" stroke="#231f20" stroke-width="0.75" textLength="36.6" lengthAdjust="spacingAndGlyphs">1653</text>
<text x="678.8" y="31.2" font-size="17.2" font-weight="bold" fill="#231f20" stroke="#231f20" stroke-width="0.75" textLength="6.2" lengthAdjust="spacingAndGlyphs">-</text>
<text x="690.3" y="31.2" font-size="17.2" font-weight="bold" fill="#231f20" stroke="#231f20" stroke-width="0.75" textLength="54.1" lengthAdjust="spacingAndGlyphs">MONTE</text>
<text x="749.6" y="31.2" font-size="17.2" font-weight="bold" fill="#231f20" stroke="#231f20" stroke-width="0.75" textLength="71.2" lengthAdjust="spacingAndGlyphs">BONDONE</text>
<rect x="36.4" y="7.0" width="32.8" height="32.8" fill="#c4d62e"/>
<rect x="38.1" y="15.7" width="27.7" height="2.7" fill="#231f20"/>
<rect x="38.1" y="29.4" width="27.7" height="2.7" fill="#231f20"/>
<text x="39.2" y="28.6" font-size="12.4" font-weight="bold" fill="#fff" stroke="#fff" stroke-width="0.9" textLength="25.5" lengthAdjust="spacingAndGlyphs">START</text>
<rect x="823.0" y="9.2" width="33.0" height="33.0" fill="#e6202d"/>
<rect x="825.3" y="17.1" width="28.5" height="2.7" fill="#231f20"/>
<rect x="825.3" y="30.2" width="28.5" height="2.7" fill="#231f20"/>
<text x="826.5" y="29.2" font-size="11.6" font-weight="bold" fill="#fff" stroke="#fff" stroke-width="0.9" textLength="26" lengthAdjust="spacingAndGlyphs">FINISH</text>
<rect x="435.0" y="194.2" width="32.8" height="32.8" fill="#29b5e9"/>
<rect x="437.8" y="202.8" width="28.2" height="2.7" fill="#231f20"/>
<rect x="437.8" y="216.2" width="28.2" height="2.7" fill="#231f20"/>
<text x="443.1" y="215.1" font-size="11.8" font-weight="bold" fill="#fff" stroke="#fff" stroke-width="0.9" textLength="17.5" lengthAdjust="spacingAndGlyphs">T.V.</text>
<rect x="468.0" y="145.1" width="35.8" height="35.8" fill="#fbbf17"/>
<rect x="471.0" y="153.7" width="29.8" height="2.7" fill="#231f20"/>
<rect x="471.0" y="168.4" width="29.8" height="2.7" fill="#231f20"/>
<text x="476.6" y="167.6" font-size="14" font-weight="bold" fill="#fff" stroke="#fff" stroke-width="0.9" textLength="18.5" lengthAdjust="spacingAndGlyphs">RIF</text>
<path d="M247.3,47.1 Q267.3,45.7 287.3,47.1 Q291.5,47.4 289.9,51.0 Q280.2,69.4 269.2,87.4 Q267.3,90.3 265.4,87.4 Q254.4,69.4 244.7,51.0 Q243.1,47.4 247.3,47.1Z" fill="#3fae49"/>
<rect x="253.3" y="50.2" width="28.1" height="2.8" fill="#231f20"/>
<rect x="253.3" y="63.2" width="28.1" height="2.8" fill="#231f20"/>
<text x="255.2" y="63.1" font-size="13.0" font-weight="bold" fill="#fff" stroke="#fff" stroke-width="0.8" textLength="24.1" lengthAdjust="spacingAndGlyphs">GPM</text>
<text transform="translate(267.5,77.5) scale(0.78,1)" font-size="14.8" font-weight="bold" fill="#231f20" stroke="#231f20" stroke-width="0.3" text-anchor="middle">1</text>
<path d="M655.6,93.0 Q675.3,91.6 695.0,93.0 Q699.2,93.3 697.6,96.9 Q688.0,115.5 677.2,133.6 Q675.3,136.5 673.4,133.6 Q662.5,115.5 653.0,96.9 Q651.4,93.3 655.6,93.0Z" fill="#3fae49"/>
<rect x="661.4" y="96.1" width="27.7" height="2.8" fill="#231f20"/>
<rect x="661.4" y="109.2" width="27.7" height="2.8" fill="#231f20"/>
<text x="663.4" y="109.1" font-size="13.1" font-weight="bold" fill="#fff" stroke="#fff" stroke-width="0.8" textLength="23.8" lengthAdjust="spacingAndGlyphs">GPM</text>
<text transform="translate(675.5,123.6) scale(0.78,1)" font-size="14.9" fill="#231f20" stroke="#231f20" stroke-width="0.25" text-anchor="middle">2</text>
<path d="M826.7,53.6 Q842.6,52.2 858.5,53.6 Q862.7,53.9 861.1,57.5 Q853.5,73.5 844.5,89.0 Q842.6,91.9 840.7,89.0 Q831.8,73.5 824.1,57.5 Q822.5,53.9 826.7,53.6Z" fill="#3fae49"/>
<rect x="831.0" y="56.3" width="23.1" height="2.5" fill="#231f20"/>
<rect x="831.0" y="67.8" width="23.1" height="2.5" fill="#231f20"/>
<text x="832.7" y="67.7" font-size="11.5" font-weight="bold" fill="#fff" stroke="#fff" stroke-width="0.8" textLength="19.9" lengthAdjust="spacingAndGlyphs">GPM</text>
<text transform="translate(842.8,80.4) scale(0.78,1)" font-size="13.1" fill="#231f20" stroke="#231f20" stroke-width="0.25" text-anchor="middle">HC</text>
<polygon points="225.5,248.8 240.2,274.1 210.8,274.1" fill="#231f20" stroke="#231f20" stroke-width="3.2" stroke-linejoin="round"/>
<polygon points="225.5,249.8 239.3,273.6 211.7,273.6" fill="#ee2e2a" stroke="#ee2e2a" stroke-width="1.8" stroke-linejoin="round"/>
<polygon points="225.5,256.3 233.4,269.9 217.6,269.9" fill="#fff"/>
<polygon points="218.3,269.9 229.1,263.9 233.1,269.9" fill="#231f20"/>
<text transform="translate(226.0,290.0) scale(0.74,1)" font-size="14.6" fill="#231f20" stroke="#231f20" stroke-width="0.3" text-anchor="middle">5.7%</text>
<polygon points="666.5,309.1 681.2,333.9 651.8,333.9" fill="#231f20" stroke="#231f20" stroke-width="3.2" stroke-linejoin="round"/>
<polygon points="666.5,310.1 680.3,333.4 652.7,333.4" fill="#ee2e2a" stroke="#ee2e2a" stroke-width="1.8" stroke-linejoin="round"/>
<polygon points="666.5,316.6 674.4,329.7 658.6,329.7" fill="#fff"/>
<polygon points="659.3,329.7 670.1,323.7 674.1,329.7" fill="#231f20"/>
<text transform="translate(667.0,349.8) scale(0.74,1)" font-size="14.6" fill="#231f20" stroke="#231f20" stroke-width="0.3" text-anchor="middle">7.0%</text>
<polygon points="768.2,302.7 782.9,327.2 753.5,327.2" fill="#231f20" stroke="#231f20" stroke-width="3.2" stroke-linejoin="round"/>
<polygon points="768.2,303.7 782.0,326.7 754.4,326.7" fill="#ee2e2a" stroke="#ee2e2a" stroke-width="1.8" stroke-linejoin="round"/>
<polygon points="768.2,310.2 776.1,323.0 760.3,323.0" fill="#fff"/>
<polygon points="761.0,323.0 771.8,317.0 775.8,323.0" fill="#231f20"/>
<text transform="translate(768.7,343.1) scale(0.74,1)" font-size="14.6" fill="#231f20" stroke="#231f20" stroke-width="0.3" text-anchor="middle">8.0%</text>
</svg>
</body></html>
